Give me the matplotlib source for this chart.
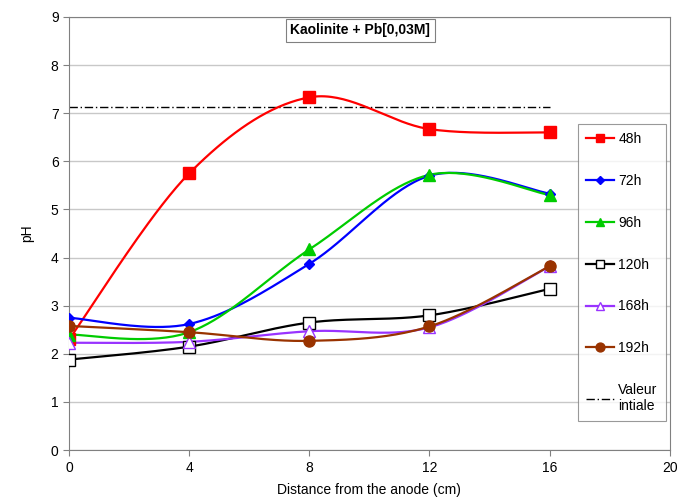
import numpy as np
import matplotlib
matplotlib.use("Agg")
import matplotlib.pyplot as plt

plt.rcParams["font.family"] = ["Liberation Sans", "DejaVu Sans"]

distance = [0, 4, 8, 12, 16]
ph_48h = [2.30, 5.75, 7.33, 6.67, 6.60]
ph_72h = [2.75, 2.62, 3.87, 5.70, 5.33]
ph_96h = [2.40, 2.45, 4.17, 5.72, 5.30]
ph_120h = [1.88, 2.15, 2.65, 2.80, 3.35]
ph_168h = [2.23, 2.25, 2.47, 2.55, 3.82]
ph_192h = [2.58, 2.45, 2.27, 2.57, 3.82]
valeur_initiale = 7.13


def smooth(x, y, n=40):
    # courbe lissée façon Excel (Bezier / Catmull-Rom)
    x = np.asarray(x, float)
    y = np.asarray(y, float)
    px = np.concatenate([[x[0]], x, [x[-1]]])
    py = np.concatenate([[y[0]], y, [y[-1]]])
    t = np.linspace(0, 1, n)
    xs, ys = [], []
    for i in range(1, len(px) - 2):
        p0 = np.array([px[i], py[i]])
        p3 = np.array([px[i + 1], py[i + 1]])
        c1 = p0 + (np.array([px[i + 1], py[i + 1]]) - np.array([px[i - 1], py[i - 1]])) / 6
        c2 = p3 - (np.array([px[i + 2], py[i + 2]]) - np.array([px[i], py[i]])) / 6
        b = ((1 - t) ** 3)[:, None] * p0 + (3 * (1 - t) ** 2 * t)[:, None] * c1 \
            + (3 * (1 - t) * t ** 2)[:, None] * c2 + (t ** 3)[:, None] * p3
        xs.extend(b[:, 0])
        ys.extend(b[:, 1])
    return xs, ys


series = [
    ("48h", ph_48h, "#FF0000", "s", 8, "#FF0000"),
    ("72h", ph_72h, "#0000FF", "D", 5, "#0000FF"),
    ("96h", ph_96h, "#00CC00", "^", 8, "#00CC00"),
    ("120h", ph_120h, "#000000", "s", 8, "white"),
    ("168h", ph_168h, "#9933FF", "^", 8, "white"),
    ("192h", ph_192h, "#993300", "o", 8, "#993300"),
]

fig = plt.figure(figsize=(6.8, 4.99), dpi=100)
ax = fig.add_axes([0.1015, 0.098, 0.8835, 0.868])

for label, vals, col, mk, ms, mfc in series:
    sx, sy = smooth(distance, vals)
    ax.plot(sx, sy, color=col, lw=1.6, zorder=3)
    ax.plot(distance, vals, ls="none", marker=mk, ms=ms, color=col,
            mfc=mfc, mec=col, mew=1.0, zorder=4)
    ax.plot([], [], color=col, lw=1.6, marker=mk, ms=ms * 0.8, mfc=mfc,
            mec=col, label=label)

ax.plot([distance[0], distance[-1]], [valeur_initiale, valeur_initiale],
        color="black", ls=(0, (6, 2, 1, 2)), lw=1.0, zorder=2,
        label="Valeur\nintiale")

ax.set_xlim(0, 20)
ax.set_ylim(0, 9)
ax.set_xticks(range(0, 21, 4))
ax.set_yticks(range(0, 10))
ax.yaxis.grid(True, color="#C8C8C8", lw=1.0)
ax.set_axisbelow(True)
ax.tick_params(labelsize=10, length=4, color="#808080")
for s in ["left", "bottom", "top", "right"]:
    ax.spines[s].set_color("#808080")

ax.set_xlabel("Distance from the anode (cm)", fontsize=10, labelpad=6)
ax.set_ylabel("pH", fontsize=10, labelpad=12)

ax.text(9.7, 8.72, "Kaolinite + Pb[0,03M]", ha="center", va="center",
        fontsize=10, fontweight="bold",
        bbox=dict(boxstyle="square,pad=0.3", fc="white", ec="#808080", lw=0.8))

leg = ax.legend(loc="upper left", bbox_to_anchor=(0.847, 0.753), fontsize=10,
                frameon=True, fancybox=False, edgecolor="#808080",
                labelspacing=2.0, handlelength=2.0, handletextpad=0.3,
                borderpad=0.6, borderaxespad=0)
leg.get_frame().set_linewidth(0.8)

fig.savefig("out.png", dpi=100)
